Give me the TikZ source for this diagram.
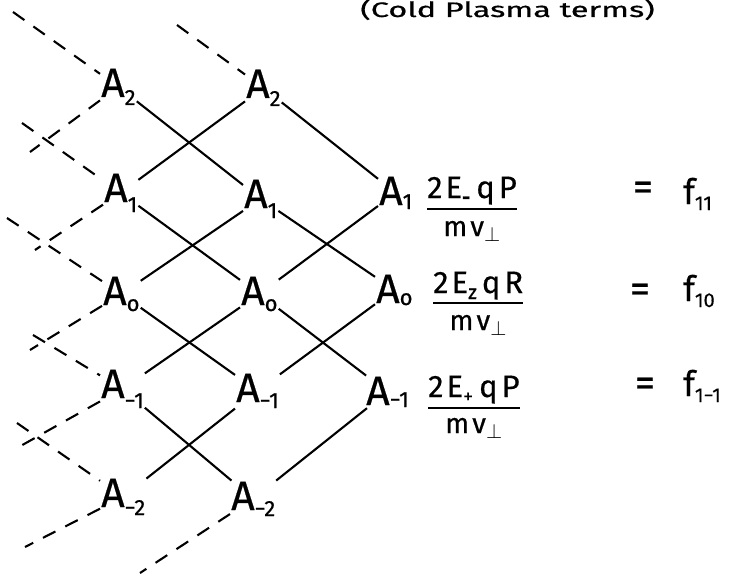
\documentclass[tikz,border=0pt]{standalone}
\usepackage{fontspec}
\setmainfont{Fira Sans}[FakeBold=0.5]
\newcommand{\Ai}[2][10pt]{A\raisebox{-#1}{\fontsize{22}{22}\selectfont #2}}
\newcommand{\lsub}[1]{\raisebox{-6pt}{\fontsize{20}{20}\selectfont #1}}
\begin{document}
\begin{tikzpicture}[x=1pt,y=-1pt,
  lat/.style={line width=2.1pt},
  dsh/.style={line width=2.1pt, dash pattern=on 14pt off 11pt},
  anode/.style={inner sep=1pt, anchor=base west, font=\fontsize{41}{41}\selectfont},
  numer/.style={inner sep=0pt, anchor=base west, font=\fontsize{31}{31}\selectfont},
  denom/.style={inner sep=0pt, anchor=base, font=\fontsize{28}{28}\selectfont},
  bar/.style={line width=2.1pt},
  eqs/.style={inner sep=0pt, anchor=center, font=\fontsize{40}{40}\selectfont},
  fnode/.style={inner sep=0pt, anchor=base west, font=\fontsize{35}{35}\selectfont},
  title/.style={inner sep=0pt, anchor=base west, font=\fontsize{21}{21}\selectfont}]
\useasboundingbox (0,0) rectangle (729,578);
% title
\node[title] (tt) at (360,17) {\scalebox{1.55}[1]{(Cold Plasma terms)}};
% column 1
\node[anode] (a2c1) at (100,97) {\Ai[8pt]{2}};
\node[anode] (a1c1) at (103,202) {\Ai{1}};
\node[anode] (a0c1) at (102,305) {\Ai[6pt]{o}};
\node[anode] (am1c1) at (100,398) {\Ai{−1}};
\node[anode] (am2c1) at (100,507) {\Ai[8pt]{−2}};
% column 2
\node[anode] (a2c2) at (245,98) {\Ai[8pt]{2}};
\node[anode] (a1c2) at (243,208) {\Ai{1}};
\node[anode] (a0c2) at (240,305) {\Ai[6pt]{o}};
\node[anode] (am1c2) at (235,402) {\Ai[6pt]{−1}};
\node[anode] (am2c2) at (230,510) {\Ai[6pt]{−2}};
% column 3
\node[anode] (a1c3) at (378,205) {\Ai[4pt]{1}};
\node[anode] (a0c3) at (375,303) {\Ai[2pt]{o}};
\node[anode] (am1c3) at (365,405) {\Ai[2pt]{−1}};
% solid lattice
\draw[lat] (a2c1) -- (a1c2);
\draw[lat] (a2c2) -- (a1c1);
\draw[lat] (a2c2) -- (a1c3);
\draw[lat] (a1c1) -- (a0c2);
\draw[lat] (a1c2) -- (a0c1);
\draw[lat] (a1c2) -- (a0c3);
\draw[lat] (a1c3) -- (a0c2);
\draw[lat] (a0c1) -- (am1c2);
\draw[lat] (a0c2) -- (am1c1);
\draw[lat] (a0c2) -- (am1c3);
\draw[lat] (a0c3) -- (am1c2);
\draw[lat] (am1c1) -- (am2c2);
\draw[lat] (am1c2) -- (am2c1);
\draw[lat] (am1c3) -- (am2c2);
% dashed continuation
\coordinate (d1) at (13,12);
\coordinate (d2) at (177,25);
\coordinate (d3) at (30,152);
\coordinate (d4) at (22,123);
\coordinate (d5) at (35,250);
\coordinate (d6) at (7,218);
\coordinate (d7) at (30,350);
\coordinate (d8) at (33,335);
\coordinate (d9) at (17,448);
\coordinate (d10) at (17,423);
\coordinate (d11) at (25,547);
\coordinate (d12) at (140,573);
\draw[dsh] (d1) -- (a2c1);
\draw[dsh] (d2) -- (a2c2);
\draw[dsh] (a2c1) -- (d3);
\draw[dsh] (d4) -- (a1c1);
\draw[dsh] (a1c1) -- (d5);
\draw[dsh] (d6) -- (a0c1);
\draw[dsh] (a0c1) -- (d7);
\draw[dsh] (d8) -- (am1c1);
\draw[dsh] (am1c1) -- (d9);
\draw[dsh] (d10) -- (am2c1);
\draw[dsh] (am2c1) -- (d11);
\draw[dsh] (am2c2) -- (d12);
% fractions
\node[numer] (n1) at (427,198) {2\kern3pt E\lsub{\textbf{-}}\kern6pt q\kern4pt P};
\draw[bar] ([yshift=-11pt]n1.base west) -- ([yshift=-11pt]n1.base east);
\node[denom] (m1) at ([yshift=-38pt]n1.base) {m\kern3pt v$_{\perp}$};
\node[numer] (n0) at (433,293) {2\kern3pt E\lsub{z}\kern5pt q\kern4pt R};
\draw[bar] ([yshift=-10pt]n0.base west) -- ([yshift=-10pt]n0.base east);
\node[denom] (m0) at ([yshift=-37pt]n0.base) {m\kern3pt v$_{\perp}$};
\node[numer] (nm1) at (428,397) {2\kern3pt E\lsub{+}\kern6pt q\kern4pt P};
\draw[bar] ([yshift=-11pt]nm1.base west) -- ([yshift=-11pt]nm1.base east);
\node[denom] (mm1) at ([yshift=-36pt]nm1.base) {m\kern3pt v$_{\perp}$};
% right-hand sides
\node[eqs] (e1) at (643,191) {=};
\node[fnode] (f1) at (683,204) {f\lsub{11}};
\node[eqs] (e0) at (640,293) {=};
\node[fnode] (f0) at (683,301) {f\lsub{10}};
\node[eqs] (em1) at (645,387) {=};
\node[fnode] (fm1) at (683,396) {f\lsub{1−1}};
\end{tikzpicture}
\end{document}
